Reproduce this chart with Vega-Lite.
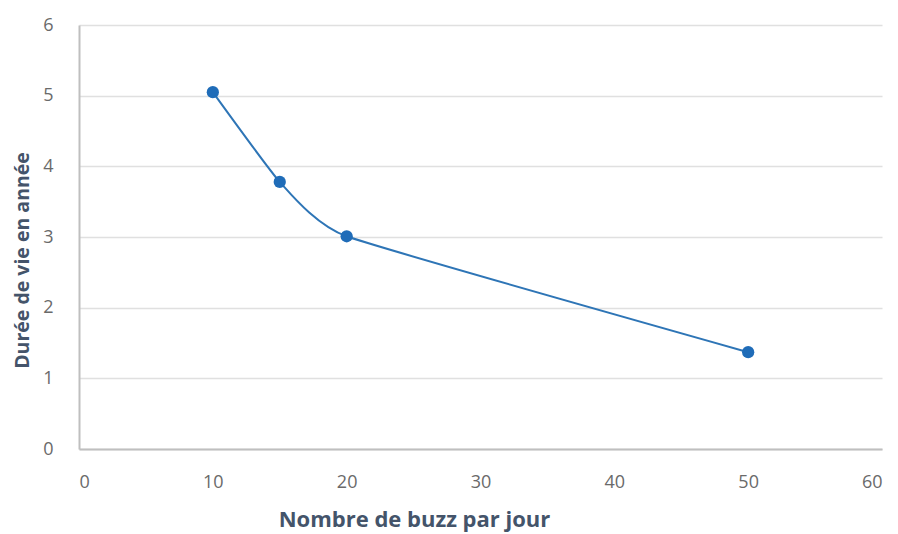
{
  "$schema": "https://vega.github.io/schema/vega-lite/v6.json",
  "autosize": "none",
  "width": 803,
  "height": 424,
  "padding": {"left": 79, "top": 25, "right": 16, "bottom": 85},
  "background": "white",
  "data": {"values": [
    {"buzz": 10, "duree": 5.05},
    {"buzz": 15, "duree": 3.78},
    {"buzz": 20, "duree": 3.01},
    {"buzz": 50, "duree": 1.37}
  ]},
  "config": {
    "view": {"stroke": null},
    "font": "Open Sans"
  },
  "encoding": {
    "x": {"field": "buzz", "type": "quantitative",
      "scale": {"domain": [0, 60], "nice": false},
      "axis": {"title": "Nombre de buzz par jour", "values": [0,10,20,30,40,50,60],
        "grid": false, "ticks": false, "domainColor": "#BFBFBF", "domainWidth": 2,
        "labelFontSize": 18, "labelColor": "#6A6A6A", "labelPadding": 24,
        "titleFontSize": 22, "titleFontWeight": "bold", "titleColor": "#44546A", "titlePadding": 18,
        "titleX": 335, "titleAlign": "center"}},
    "y": {"field": "duree", "type": "quantitative",
      "scale": {"domain": [0, 6], "nice": false},
      "axis": {"title": "Durée de vie en année", "values": [0,1,2,3,4,5,6],
        "grid": true, "gridColor": "#E0E0E0", "gridWidth": 1.5, "ticks": false,
        "domainColor": "#BFBFBF", "domainWidth": 2,
        "labelFontSize": 18, "labelColor": "#6A6A6A", "labelPadding": 26,
        "titleFontSize": 19.5, "titleFontWeight": "bold", "titleColor": "#44546A", "titlePadding": 10,
        "titleY": 235, "titleAlign": "center"}}
  },
  "layer": [
    {"mark": {"type": "line", "interpolate": "cardinal", "tension": 0.6, "color": "#2E75B6", "strokeWidth": 2}},
    {"mark": {"type": "point", "filled": true, "opacity": 1, "size": 150, "color": "#1F6CB8"}}
  ]
}
